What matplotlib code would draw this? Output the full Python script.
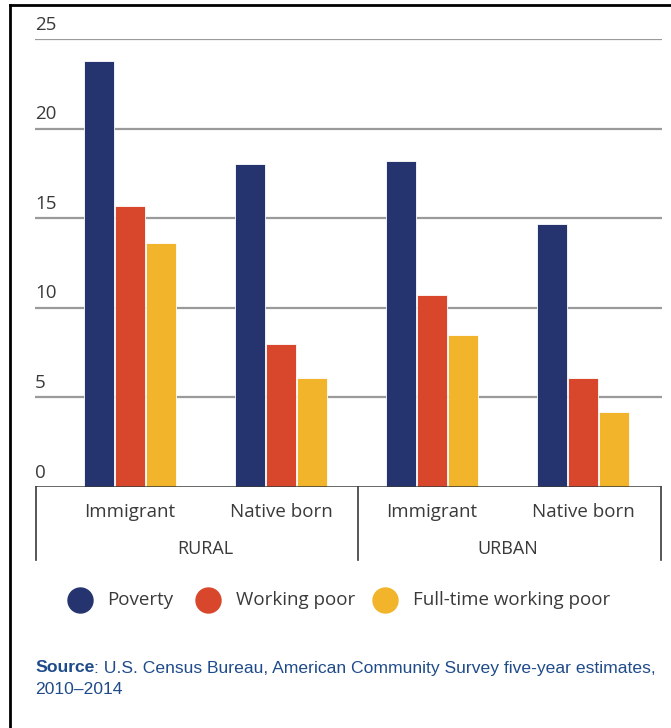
import matplotlib
matplotlib.use("Agg")
import matplotlib.pyplot as plt
from matplotlib import font_manager
from matplotlib.lines import Line2D
import numpy as np

# Data: poverty rates (%) by nativity within rural and urban areas
groups = ["RURAL", "URBAN"]
categories = ["Immigrant", "Native born", "Immigrant", "Native born"]
series_names = ["Poverty", "Working poor", "Full-time working poor"]
poverty = [23.8, 18.0, 18.2, 14.7]
working_poor = [15.7, 8.0, 10.7, 6.1]
fulltime_working_poor = [13.6, 6.1, 8.5, 4.2]
yticks = [0, 5, 10, 15, 20, 25]

colors = ["#25346f", "#d8472b", "#f1b42a"]
source_blue = "#1f4b8a"
text_grey = "#3a3a3a"

available = {f.name for f in font_manager.fontManager.ttflist}
main_font = "Open Sans" if "Open Sans" in available else "DejaVu Sans"
narrow_font = "Liberation Sans Narrow" if "Liberation Sans Narrow" in available else "Liberation Sans"

W, H = 671, 728
fig = plt.figure(figsize=(W / 100, H / 100), dpi=100)

def fx(px):
    return px / W

def fy(py):
    return 1 - py / H

ax = fig.add_axes([fx(35), fy(487), fx(662) - fx(35), fy(39) - fy(487)])
ax.set_ylim(0, 25)
unit = 151.0
ax.set_xlim(-95 / unit, (627 - 95) / unit)

x = np.arange(len(categories))
width = 0.2
step = 0.207
for i, (vals, col) in enumerate(zip([poverty, working_poor, fulltime_working_poor], colors)):
    ax.bar(x + (i - 1) * step, vals, width=width, color=col, edgecolor="white",
           linewidth=0.6, zorder=3)

# Horizontal gridlines with labels sitting above them
for t in yticks:
    if t > 0:
        ax.axhline(t, color="#9a9a9a", linewidth=1.6, zorder=1)
    ax.text(-95 / unit, t + 0.3, str(t), ha="left", va="bottom",
            fontsize=13.5, color=text_grey, family=main_font)

ax.axhline(0, color="#3a3a3a", linewidth=1.8, zorder=4)

for s in ax.spines.values():
    s.set_visible(False)
ax.set_xticks([])
ax.set_yticks([])

# Category and group labels below the axis
for xi, lab in zip(x, categories):
    ax.text(xi, -1.4, lab, ha="center", va="center", fontsize=13.5,
            color=text_grey, family=main_font, clip_on=False)
ax.text(0.5, -3.45, groups[0], ha="center", va="center", fontsize=13,
        color=text_grey, family=main_font, clip_on=False)
ax.text(2.5, -3.45, groups[1], ha="center", va="center", fontsize=13,
        color=text_grey, family=main_font, clip_on=False)

# Group separators
ybot = -(560 - 487) / 17.92
for xs in [(36 - 35 - 95) / unit, (358 - 35 - 95) / unit, (661 - 35 - 95) / unit]:
    ax.plot([xs, xs], [0, ybot], color="#3a3a3a", linewidth=1.2, clip_on=False, zorder=4)

# Legend
legend_circles = [80, 208, 385]
legend_text_x = [107, 236, 413]
for cx, tx, name, col in zip(legend_circles, legend_text_x, series_names, colors):
    fig.add_artist(Line2D([fx(cx)], [fy(600)], marker="o", markersize=18,
                          color=col, linestyle="none"))
    fig.text(fx(tx), fy(600), name, ha="left", va="center", fontsize=13.5,
             color=text_grey, family=main_font)

# Source note: bold lead-in followed by regular text
src_size = 12.6
renderer = fig.canvas.get_renderer()
t1 = fig.text(fx(35), fy(668), "Source", ha="left", va="center", fontsize=src_size,
              color=source_blue, family=narrow_font, fontweight="bold")
w1, _, _ = renderer.get_text_width_height_descent(
    "Source", t1.get_fontproperties(), ismath=False)
fig.text(fx(35) + w1 / W, fy(668),
         ": U.S. Census Bureau, American Community Survey five-year estimates,",
         ha="left", va="center", fontsize=src_size, color=source_blue, family=narrow_font)
fig.text(fx(35), fy(690), "2010\u20132014", ha="left", va="center", fontsize=src_size,
         color=source_blue, family=narrow_font)

# Frame lines along left and top edges
fig.add_artist(Line2D([fx(10), fx(10)], [fy(5), 0], color="black", linewidth=2))
fig.add_artist(Line2D([fx(10), 1], [fy(5), fy(5)], color="black", linewidth=2))

fig.savefig("out.png", dpi=100, facecolor="white")
